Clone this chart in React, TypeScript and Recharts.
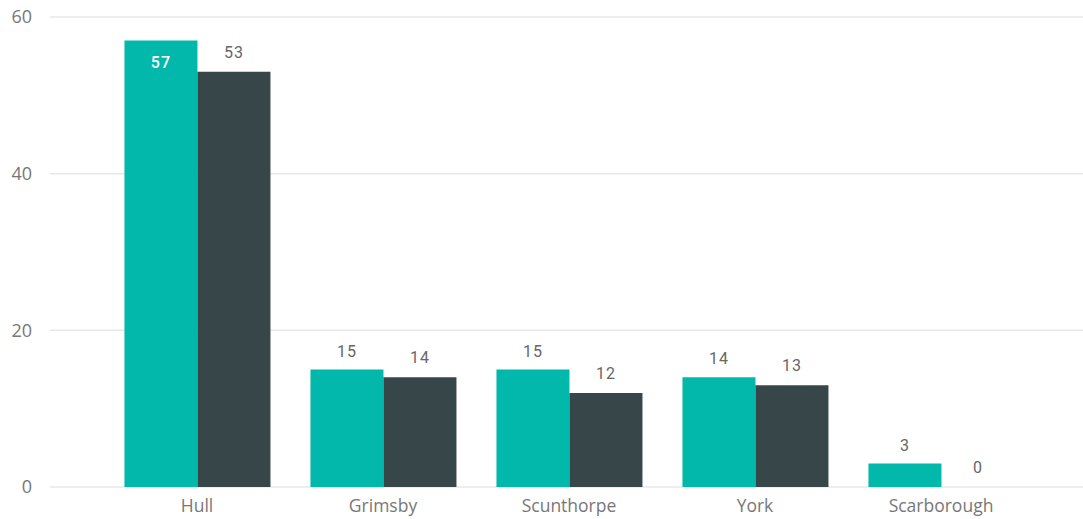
import { Bar, BarChart, CartesianGrid, LabelList, XAxis, YAxis } from "recharts"

const towns = ["Hull", "Grimsby", "Scunthorpe", "York", "Scarborough"]
const seriesA = [57, 15, 15, 14, 3]
const seriesB = [53, 14, 12, 13, 0]
const yTicks = [0, 20, 40, 60]

const data = towns.map((name, i) => ({ name, a: seriesA[i], b: seriesB[i] }))

const labelFont = "Roboto, 'DejaVu Sans', sans-serif"
const tickFont = "'Open Sans', 'Noto Sans', sans-serif"

// labels sit above the bar unless the bar is near the top, then white inside
const TealLabel = (props: any) => {
  const { x, y, width, value } = props
  const inside = value > 50
  return (
    <text
      x={x + width / 2}
      y={inside ? y + 27 : y - 13}
      textAnchor="middle"
      fill={inside ? "#ffffff" : "#666666"}
      fontSize={16}
      fontFamily={labelFont}
      fontWeight={inside ? 500 : 400}
      letterSpacing={1}
    >
      {value}
    </text>
  )
}

const DarkLabel = (props: any) => {
  const { x, y, width, value } = props
  return (
    <text
      x={x + width / 2}
      y={y - 14}
      textAnchor="middle"
      fill="#666666"
      fontSize={16}
      fontFamily={labelFont}
      letterSpacing={1}
    >
      {value}
    </text>
  )
}

// tiny min size so zero-height bars still get their label
const minSize = (v: any) => (v === 0 ? 0.01 : 0)

export default function App() {
  return (
    <div style={{ position: "absolute", left: 0, top: 0, background: "#fff" }}>
      <BarChart
        width={1083}
        height={519}
        data={data}
        margin={{ top: 17, right: 0, bottom: 0, left: 0 }}
        barCategoryGap="11%"
        barGap={0}
      >
        <CartesianGrid vertical={false} stroke="#e8e8e8" strokeWidth={1.5} />
        <XAxis
          dataKey="name"
          axisLine={false}
          tickLine={false}
          padding={{ left: 54, right: 49 }}
          height={32}
          tick={{ fill: "#777777", fontSize: 17.5, fontFamily: tickFont }}
          tickMargin={7}
        />
        <YAxis
          domain={[0, 60]}
          ticks={yTicks}
          axisLine={false}
          tickLine={false}
          width={50}
          tickMargin={12}
          tick={{ fill: "#777777", fontSize: 18, fontFamily: tickFont }}
        />
        <Bar dataKey="a" fill="#01B8AA" minPointSize={minSize} isAnimationActive={false}>
          <LabelList dataKey="a" content={TealLabel} />
        </Bar>
        <Bar dataKey="b" fill="#374649" minPointSize={minSize} isAnimationActive={false}>
          <LabelList dataKey="b" content={DarkLabel} />
        </Bar>
      </BarChart>
    </div>
  )
}
